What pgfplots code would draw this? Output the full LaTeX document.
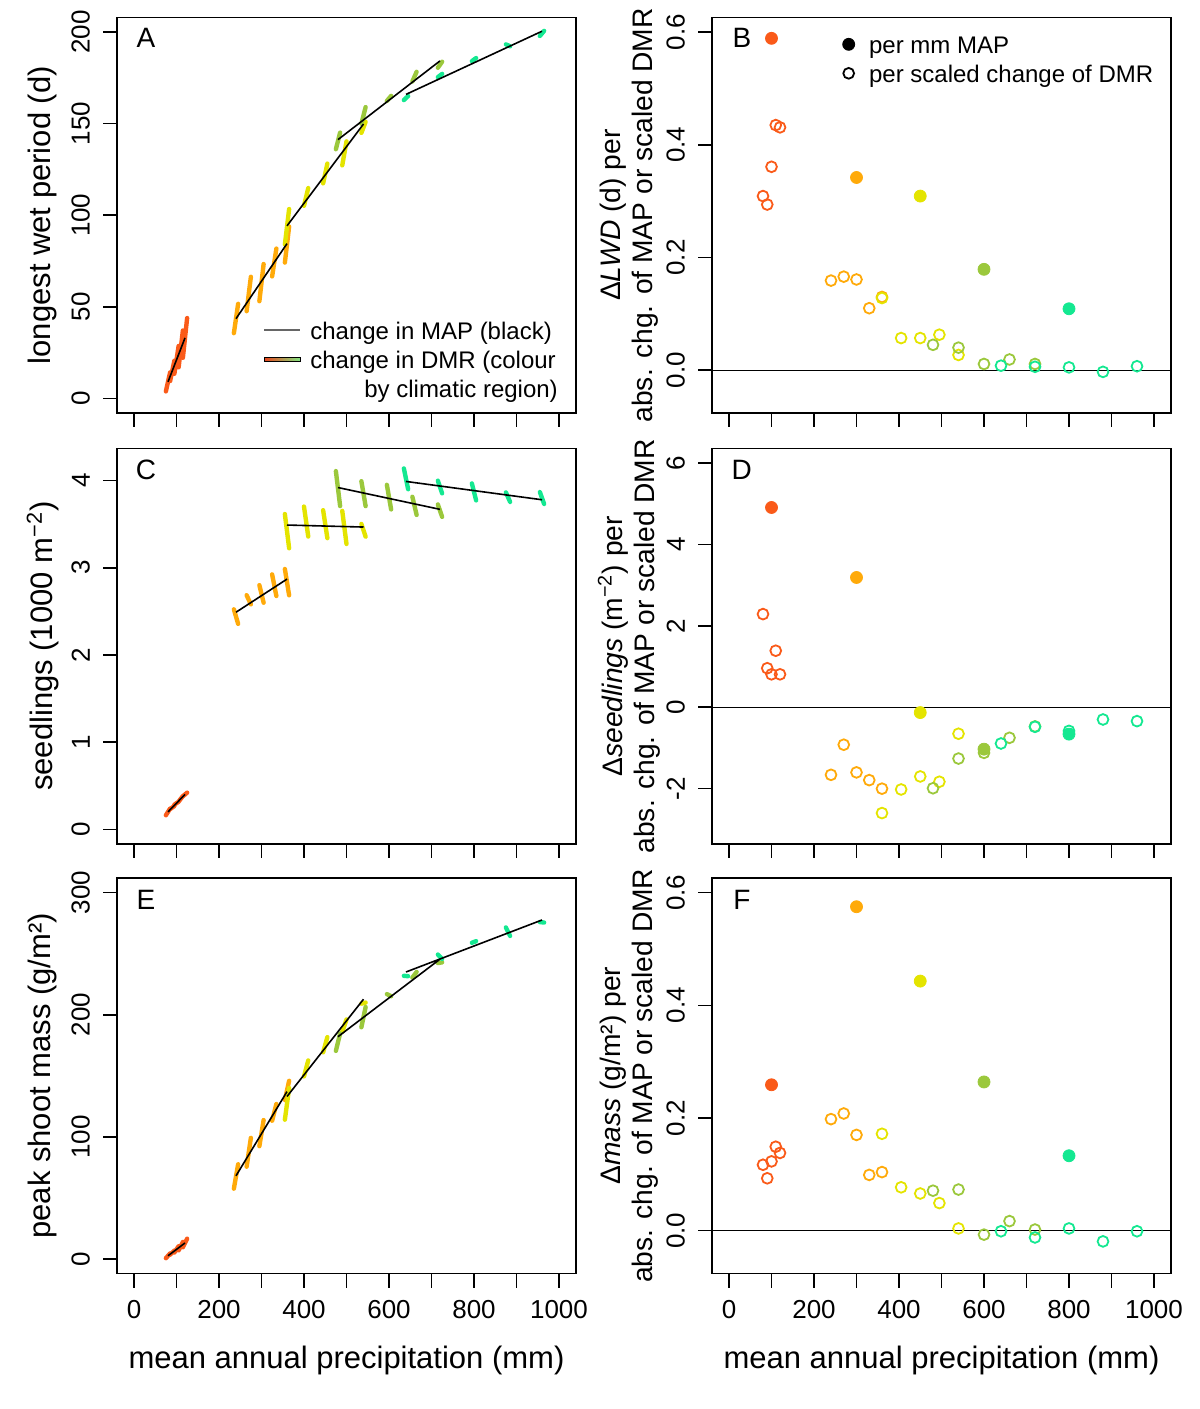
\documentclass[border=0pt]{standalone}
\usepackage{pgfplots}
\pgfplotsset{compat=1.18}
\usepackage{fontspec}
\setmainfont{Liberation Sans}
\definecolor{cR}{RGB}{250,90,25}
\definecolor{cO}{RGB}{255,170,10}
\definecolor{cY}{RGB}{228,228,0}
\definecolor{cG}{RGB}{155,200,60}
\definecolor{cC}{RGB}{20,232,145}
\definecolor{lgR}{RGB}{230,70,30}
\definecolor{lgG}{RGB}{130,230,130}

\tikzset{letter/.style={font=\fontsize{14}{14}\selectfont, anchor=center}}
\pgfplotsset{
 panel/.style={
  scale only axis, width=229.5pt, height=197.75pt, anchor=south west,
  xmin=-40, xmax=1040, xtick={0,100,...,1000},
  tick align=outside, tick pos=left, major tick length=7pt,
  tick style={black, line width=0.8pt},
  axis line style={line width=0.8pt},
  tick label style={font=\fontsize{13}{15}\selectfont},
  yticklabel style={rotate=90, anchor=south},
  yticklabel shift=3pt, xticklabel shift=3pt,
  label style={font=\fontsize{15.5}{16}\selectfont},
  xlabel style={at={(axis description cs:0.5,-0.2187)}, anchor=center},
  ylabel style={at={(axis description cs:-0.162,0.5)}, anchor=center},
 },
 notx/.style={xticklabels={,,,,,,,,,,}},
 withx/.style={xticklabels={0,,200,,400,,600,,800,,1000}, xlabel={mean annual precipitation (mm)}},
 rightp/.style={ylabel style={at={(axis description cs:-0.181,0.5)}, anchor=center, align=center, font=\fontsize{14.1}{16}\selectfont}},
 seg/.style={line width=2.2pt, line cap=round, unbounded coords=jump},
 blk/.style={black, line width=0.8pt, unbounded coords=jump},
 fmk/.style={only marks, mark=*, mark size=3pt},
 omk/.style={only marks, mark=o, mark size=2.7pt, line width=0.9pt},
 zl/.style={black, line width=0.6pt},
}

\begin{document}
\begin{tikzpicture}
\path[use as bounding box] (0,0) rectangle (600pt,704.5pt);

% ---------------- A ----------------
\begin{axis}[panel, notx, at={(58.5pt,498pt)},
  ymin=-8, ymax=208, ytick={0,50,100,150,200}, yticklabels={0,50,100,150,200},
  ylabel={longest wet period (d)},
  legend style={at={(axis description cs:0.318,0.2377)}, anchor=north west, draw=none, fill=none,
    inner sep=0pt, font=\fontsize{12}{14}\selectfont,
    nodes={inner sep=0pt, text height=10pt, text depth=4.5pt}, column sep=4.5pt, row sep=0pt},
  legend cell align=left]
\addlegendimage{legend image code/.code={\draw[black!60, line width=1pt] (0pt,1.75pt) -- (18pt,1.75pt);}}
\addlegendentry{change in MAP (black)}
\addlegendimage{legend image code/.code={\shade[left color=lgR, middle color=cY, right color=lgG] (0pt,0.7pt) rectangle (18pt,2.9pt);}}
\addlegendentry{change in DMR (colour}
\addlegendimage{empty legend}
\addlegendentry{\hspace*{27pt}by climatic region)}
\addplot[seg, cR] coordinates {(75,3.8) (85,14.2) (85,nan) (85,9.45) (95,20.55) (95,nan) (95,13.4) (105,28.6) (105,nan) (105,16.95) (115,37.05) (115,nan) (115,22.15) (125,43.85)};
\addplot[seg, cO] coordinates {(235,35.6) (245,51.6) (245,nan) (265,47.6) (275,66.4) (275,nan) (295,53.05) (305,73.35) (305,nan) (325,66.6) (335,81.8) (335,nan) (355,74.15) (365,93.85)};
\addplot[seg, cY] coordinates {(355,84) (365,103.4) (365,nan) (400,105.15) (410,114.85) (410,nan) (445,117.4) (455,128.2) (455,nan) (490,127.25) (500,140.35) (500,nan) (535,144.95) (545,151.05)};
\addplot[seg, cG] coordinates {(475,136.05) (485,145.15) (485,nan) (535,149.95) (545,159.05) (545,nan) (595,162.4) (605,165.2) (605,nan) (655,173.05) (665,178.35) (665,nan) (715,180.55) (725,183.85)};
\addplot[seg, cC] coordinates {(635,162.9) (645,165.1) (645,nan) (715,175.4) (725,177.2) (725,nan) (795,184.15) (805,185.85) (805,nan) (875,193.35) (885,192.25) (885,nan) (955,197.9) (965,200.7)};
\addplot[blk] coordinates {(80,9) (120,33) (120,nan) (240,43.5) (360,84.5) (360,nan) (360,94.2) (540,149.8) (540,nan) (480,141.3) (720,184.3) (720,nan) (640,166) (960,200.5)};
\node[letter] at (axis description cs:0.063,0.948) {A};
\end{axis}

% ---------------- B ----------------
\begin{axis}[panel, notx, rightp, at={(356pt,498pt)},
  ymin=-0.076, ymax=0.626, ytick={0,0.2,0.4,0.6}, yticklabels={0.0,0.2,0.4,0.6},
  ylabel={Δ\textit{LWD} (d) per\\abs. chg. of MAP or scaled DMR},
  legend style={at={(axis description cs:0.283,0.961)}, anchor=north west, draw=none, fill=none,
    inner sep=0pt, font=\fontsize{12}{14}\selectfont,
    nodes={inner sep=0pt, text height=10pt, text depth=4.5pt}, column sep=7pt, row sep=0pt},
  legend cell align=left]
\addlegendimage{legend image code/.code={\fill[black] (0pt,1.75pt) circle[radius=3pt];}}
\addlegendentry{per mm MAP}
\addlegendimage{legend image code/.code={\draw[black, line width=0.9pt] (0pt,1.75pt) circle[radius=2.7pt];}}
\addlegendentry{per scaled change of DMR}
\addplot[zl] coordinates {(-40,0) (1040,0)};
\addplot[omk, cR] coordinates {(80,0.309) (90,0.294) (100,0.361) (110,0.435) (120,0.431)};
\addplot[omk, cO] coordinates {(240,0.159) (270,0.166) (300,0.161) (330,0.110) (360,0.130)};
\addplot[omk, cY] coordinates {(360,0.128) (405,0.057) (450,0.057) (495,0.063) (540,0.027)};
\addplot[omk, cG] coordinates {(480,0.045) (540,0.040) (600,0.011) (660,0.019) (720,0.011)};
\addplot[omk, cC] coordinates {(640,0.008) (720,0.006) (800,0.005) (880,-0.003) (960,0.007)};
\addplot[fmk, cR] coordinates {(100,0.589)};
\addplot[fmk, cO] coordinates {(300,0.342)};
\addplot[fmk, cY] coordinates {(450,0.309)};
\addplot[fmk, cG] coordinates {(600,0.179)};
\addplot[fmk, cC] coordinates {(800,0.109)};
\node[letter] at (axis description cs:0.065,0.948) {B};
\end{axis}

% ---------------- C ----------------
\begin{axis}[panel, notx, at={(58.5pt,282.5pt)},
  ymin=-0.168, ymax=4.368, ytick={0,1,2,3,4}, yticklabels={0,1,2,3,4},
  ylabel={seedlings (1000 m\textsuperscript{−2})}]
\addplot[seg, cR] coordinates {(75,0.1615) (85,0.2385) (85,nan) (85,0.232) (95,0.268) (95,nan) (95,0.283) (105,0.317) (105,nan) (105,0.318) (115,0.382) (115,nan) (115,0.3795) (125,0.4205)};
\addplot[seg, cO] coordinates {(235,2.5235) (245,2.3565) (245,nan) (265,2.685) (275,2.581) (275,nan) (295,2.8008) (305,2.5992) (305,nan) (325,2.924) (335,2.676) (335,nan) (355,2.986) (365,2.684)};
\addplot[seg, cY] coordinates {(355,3.6165) (365,3.2235) (365,nan) (400,3.702) (410,3.358) (410,nan) (445,3.6605) (455,3.3395) (455,nan) (490,3.653) (500,3.273) (500,nan) (535,3.5035) (545,3.3565)};
\addplot[seg, cG] coordinates {(475,4.1085) (485,3.7075) (485,nan) (535,3.993) (545,3.707) (545,nan) (595,3.951) (605,3.669) (605,nan) (655,3.814) (665,3.606) (665,nan) (715,3.726) (725,3.584)};
\addplot[seg, cC] coordinates {(635,4.1395) (645,3.9005) (645,nan) (715,3.9985) (725,3.8535) (725,nan) (795,3.9675) (805,3.7725) (805,nan) (875,3.8655) (885,3.7545) (885,nan) (955,3.8685) (965,3.7315)};
\addplot[blk] coordinates {(80,0.2) (120,0.4) (120,nan) (240,2.49) (360,2.87) (360,nan) (360,3.49) (540,3.467) (540,nan) (480,3.92) (720,3.67) (720,nan) (640,3.99) (960,3.78)};
\node[letter] at (axis description cs:0.063,0.945) {C};
\end{axis}

% ---------------- D ----------------
\begin{axis}[panel, notx, rightp, at={(356pt,282.5pt)},
  ymin=-3.36, ymax=6.36, ytick={-2,0,2,4,6}, yticklabels={-2,0,2,4,6},
  ylabel={Δ\textit{seedlings} (m\textsuperscript{−2}) per\\abs. chg. of MAP or scaled DMR}]
\addplot[zl] coordinates {(-40,0) (1040,0)};
\addplot[omk, cR] coordinates {(80,2.29) (90,0.96) (100,0.81) (110,1.39) (120,0.81)};
\addplot[omk, cO] coordinates {(240,-1.66) (270,-0.92) (300,-1.60) (330,-1.79) (360,-2.00)};
\addplot[omk, cY] coordinates {(360,-2.60) (405,-2.02) (450,-1.70) (495,-1.83) (540,-0.65)};
\addplot[omk, cG] coordinates {(480,-1.99) (540,-1.26) (600,-1.12) (660,-0.75) (720,-0.47)};
\addplot[omk, cC] coordinates {(640,-0.89) (720,-0.48) (800,-0.58) (880,-0.30) (960,-0.34)};
\addplot[fmk, cR] coordinates {(100,4.91)};
\addplot[fmk, cO] coordinates {(300,3.19)};
\addplot[fmk, cY] coordinates {(450,-0.13)};
\addplot[fmk, cG] coordinates {(600,-1.03)};
\addplot[fmk, cC] coordinates {(800,-0.66)};
\node[letter] at (axis description cs:0.065,0.945) {D};
\end{axis}

% ---------------- E ----------------
\begin{axis}[panel, withx, at={(58.5pt,67.75pt)},
  ymin=-12, ymax=312, ytick={0,100,200,300}, yticklabels={0,100,200,300},
  ylabel={peak shoot mass (g/m²)}]
\addplot[seg, cR] coordinates {(75,0.55) (85,4.45) (85,nan) (85,3.35) (95,6.85) (95,nan) (95,5.15) (105,10.35) (105,nan) (105,6.95) (115,13.85) (115,nan) (115,9.5) (125,16.5)};
\addplot[seg, cO] coordinates {(235,57.5) (245,77.5) (245,nan) (265,75.5) (275,99.1) (275,nan) (295,92.3) (305,113.7) (305,nan) (325,113.15) (335,126.85) (335,nan) (355,130.15) (365,145.85)};
\addplot[seg, cY] coordinates {(355,114) (365,140) (365,nan) (400,149.45) (410,162.55) (410,nan) (445,169.15) (455,181.65) (455,nan) (490,185.9) (500,196.1) (500,nan) (535,209.05) (545,209.95)};
\addplot[seg, cG] coordinates {(475,170.35) (485,184.65) (485,nan) (535,189.7) (545,206.3) (545,nan) (595,216.9) (605,215.1) (605,nan) (655,230.35) (665,235.05) (665,nan) (715,242.3) (725,242.9)};
\addplot[seg, cC] coordinates {(635,231.85) (645,231.55) (645,nan) (715,249.3) (725,245.7) (725,nan) (795,258.95) (805,260.25) (805,nan) (875,271.5) (885,264.5) (885,nan) (955,275.9) (965,275.5)};
\addplot[blk] coordinates {(80,2.5) (120,13) (120,nan) (240,68) (360,137) (360,nan) (360,133) (540,212.7) (540,nan) (480,182) (720,245.5) (720,nan) (640,235) (960,277.6)};
\node[letter] at (axis description cs:0.063,0.945) {E};
\end{axis}

% ---------------- F ----------------
\begin{axis}[panel, withx, rightp, at={(356pt,67.75pt)},
  ymin=-0.076, ymax=0.626, ytick={0,0.2,0.4,0.6}, yticklabels={0.0,0.2,0.4,0.6},
  ylabel={Δ\textit{mass} (g/m²) per\\abs. chg. of MAP or scaled DMR}]
\addplot[zl] coordinates {(-40,0) (1040,0)};
\addplot[omk, cR] coordinates {(80,0.117) (90,0.093) (100,0.123) (110,0.149) (120,0.138)};
\addplot[omk, cO] coordinates {(240,0.198) (270,0.208) (300,0.170) (330,0.099) (360,0.104)};
\addplot[omk, cY] coordinates {(360,0.172) (405,0.077) (450,0.066) (495,0.049) (540,0.004)};
\addplot[omk, cG] coordinates {(480,0.071) (540,0.073) (600,-0.007) (660,0.017) (720,0.002)};
\addplot[omk, cC] coordinates {(640,-0.001) (720,-0.012) (800,0.004) (880,-0.019) (960,-0.001)};
\addplot[fmk, cR] coordinates {(100,0.259)};
\addplot[fmk, cO] coordinates {(300,0.575)};
\addplot[fmk, cY] coordinates {(450,0.443)};
\addplot[fmk, cG] coordinates {(600,0.264)};
\addplot[fmk, cC] coordinates {(800,0.133)};
\node[letter] at (axis description cs:0.065,0.945) {F};
\end{axis}
\end{tikzpicture}
\end{document}
